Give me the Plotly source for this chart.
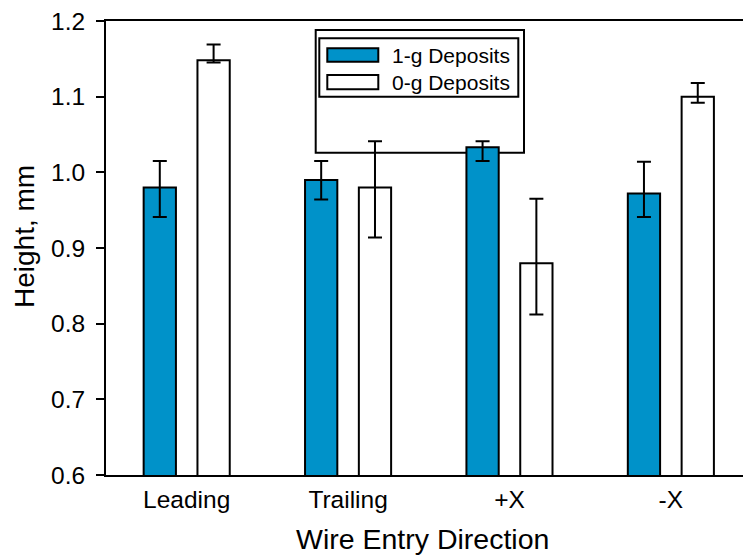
import plotly.graph_objects as go

# Bead height by wire entry direction
directions = ["Leading", "Trailing", "+X", "-X"]
height_1g = [0.980, 0.990, 1.033, 0.972]
err_1g_plus = [0.035, 0.025, 0.008, 0.042]
err_1g_minus = [0.039, 0.026, 0.018, 0.031]
height_0g = [1.148, 0.980, 0.880, 1.100]
err_0g_plus = [0.021, 0.061, 0.085, 0.018]
err_0g_minus = [0.003, 0.066, 0.068, 0.008]
series_names = ["1-g Deposits", "0-g Deposits"]
y_ticks = [0.6, 0.7, 0.8, 0.9, 1.0, 1.1, 1.2]

BLUE = "#0092c9"
FONT = "Arial, Liberation Sans, sans-serif"

W, H = 743, 555
L, R, T, B = 106, 0, 21, 80
PW, PH = W - L - R, H - T - B


def px(x):
    return (x - L) / PW


def py(y):
    return (H - B - y) / PH


fig = go.Figure()
for vals, ep, em, color, off in [
    (height_1g, err_1g_plus, err_1g_minus, BLUE, -0.2667),
    (height_0g, err_0g_plus, err_0g_minus, "white", 0.0667),
]:
    fig.add_trace(go.Bar(
        x=directions, y=vals, width=0.2, offset=off,
        marker=dict(color=color, line=dict(color="black", width=2)),
        error_y=dict(type="data", symmetric=False, array=ep, arrayminus=em,
                     color="black", thickness=2, width=7),
        showlegend=False,
    ))

shapes = [
    # outer and inner legend frames
    dict(type="rect", xref="paper", yref="paper", x0=px(315.7), x1=px(524),
         y0=py(152.7), y1=py(30), line=dict(color="black", width=2),
         fillcolor="white", layer="below"),
    dict(type="rect", xref="paper", yref="paper", x0=px(319.3), x1=px(518.3),
         y0=py(96.7), y1=py(38.3), line=dict(color="black", width=2)),
    # swatches
    dict(type="rect", xref="paper", yref="paper", x0=px(327.3), x1=px(378.3),
         y0=py(61.7), y1=py(48.3), line=dict(color="black", width=2),
         fillcolor=BLUE),
    dict(type="rect", xref="paper", yref="paper", x0=px(327.3), x1=px(378.3),
         y0=py(89.3), y1=py(75), line=dict(color="black", width=2),
         fillcolor="white"),
]

annotations = [
    dict(text=series_names[0], xref="paper", yref="paper", x=px(390), y=py(55),
         xanchor="left", yanchor="middle", showarrow=False,
         font=dict(family=FONT, size=21, color="black")),
    dict(text=series_names[1], xref="paper", yref="paper", x=px(390), y=py(82),
         xanchor="left", yanchor="middle", showarrow=False,
         font=dict(family=FONT, size=21, color="black")),
    dict(text="Wire Entry Direction", xref="paper", yref="paper",
         x=px(422.5), y=py(539), xanchor="center", yanchor="middle",
         showarrow=False, font=dict(family=FONT, size=28.5, color="black")),
    dict(text="Height, mm", xref="paper", yref="paper", x=px(24), y=py(237),
         xanchor="center", yanchor="middle", textangle=-90,
         showarrow=False, font=dict(family=FONT, size=28, color="black")),
]

fig.update_layout(
    width=W, height=H,
    margin=dict(l=L, r=R, t=T, b=B, pad=0),
    paper_bgcolor="white", plot_bgcolor="white",
    barmode="overlay",
    font=dict(family=FONT, size=24, color="black"),
    shapes=shapes, annotations=annotations,
    xaxis=dict(range=[-0.5, 3.447], showgrid=False, zeroline=False,
               showline=True, linecolor="black", linewidth=2, mirror=True,
               ticks="", tickfont=dict(size=24.5), ticklabelstandoff=2),
    yaxis=dict(range=[0.6, 1.2], tickvals=y_ticks,
               ticktext=[f"{v:.1f}" for v in y_ticks],
               showgrid=False, zeroline=False, showline=True,
               linecolor="black", linewidth=2, ticks="outside", ticklen=8,
               tickwidth=2, tickcolor="black", tickfont=dict(size=24.5),
               ticklabelstandoff=6),
)

fig.write_html("out.html")
